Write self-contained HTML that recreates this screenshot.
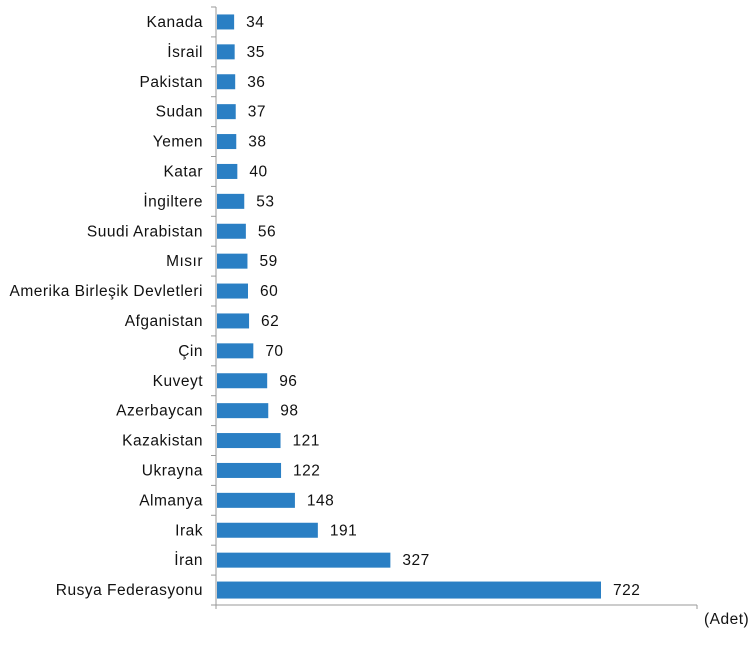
<!DOCTYPE html>
<html><head><meta charset="utf-8"><style>
body{margin:0;background:#fff;font-family:"Liberation Sans",Arial,sans-serif;}
svg text{font-family:"Liberation Sans",Arial,sans-serif;font-size:15.5px;letter-spacing:0.5px;fill:#111;}
</style></head><body>
<svg id="chart" width="750" height="646"></svg>
<script>
const categories=["Kanada","İsrail","Pakistan","Sudan","Yemen","Katar","İngiltere","Suudi Arabistan","Mısır","Amerika Birleşik Devletleri","Afganistan","Çin","Kuveyt","Azerbaycan","Kazakistan","Ukrayna","Almanya","Irak","İran","Rusya Federasyonu"];
const values=[34,35,36,37,38,40,53,56,59,60,62,70,96,98,121,122,148,191,327,722];
const NS="http://www.w3.org/2000/svg";
const svg=document.getElementById('chart');
const x0=216,xScale=(601-216)/722,yTop=7,step=29.9;
const xPos=v=>x0+v*xScale;
const yCenter=i=>yTop+step*i+step/2;
function mk(t,a){const e=document.createElementNS(NS,t);for(const k in a)e.setAttribute(k,a[k]);svg.appendChild(e);return e;}
const yBottom=yTop+step*categories.length;
let ax=mk('line',{x1:x0,y1:yTop,x2:x0,y2:yBottom,stroke:'#999','stroke-width':1});


let bx=mk('line',{x1:x0,y1:yBottom,x2:697,y2:yBottom,stroke:'#999','stroke-width':1});


for(const xx of [x0,697]){mk('line',{x1:xx,y1:yBottom,x2:xx,y2:yBottom+4,stroke:'#999'});}
for(let i=0;i<=categories.length;i++){
  const ty=yTop+step*i;
  const tk=mk('line',{x1:x0-5,y1:ty,x2:x0,y2:ty,stroke:'#999'});
  
  
}
categories.forEach((c,i)=>{
  const cy=yCenter(i);
  const h=i===categories.length-1?17:15;
  const r=mk('rect',{x:x0+1,y:cy-h/2,width:xPos(values[i])-x0-1,height:h,fill:'#2a7fc4'});
  
  
  const l=mk('text',{x:203,y:cy+5,'text-anchor':'end'});l.textContent=c;
  
  
  const v=mk('text',{x:xPos(values[i])+12,y:cy+5});v.textContent=values[i];
  
  
});
const u=mk('text',{x:704,y:624});u.textContent='(Adet)';


</script>
</body></html>
